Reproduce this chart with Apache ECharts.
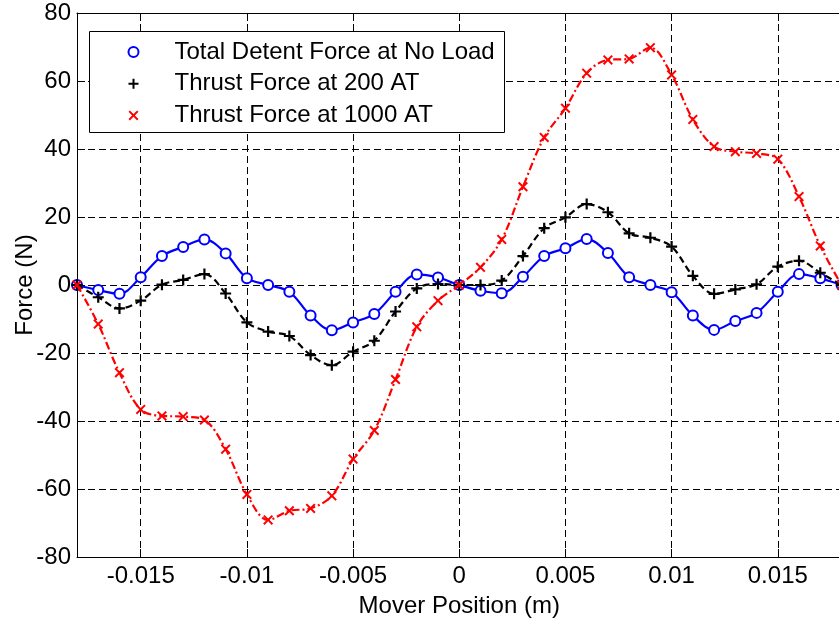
<!DOCTYPE html>
<html>
<head>
<meta charset="utf-8">
<title>Detent and Thrust Force vs Mover Position</title>
<script src="https://cdn.jsdelivr.net/npm/echarts@6/dist/echarts.min.js"></script>
<style>
  html, body { margin: 0; padding: 0; background: #fff; }
  #chart { width: 839px; height: 624px; }
</style>
</head>
<body>
<div id="chart"></div>
<script>
// Mover position samples (m)
const positions = [
  -0.018, -0.017, -0.016, -0.015, -0.014, -0.013, -0.012, -0.011, -0.010,
  -0.009, -0.008, -0.007, -0.006, -0.005, -0.004, -0.003, -0.002, -0.001,
   0.000,
   0.001,  0.002,  0.003,  0.004,  0.005,  0.006,  0.007,  0.008,  0.009,
   0.010,  0.011,  0.012,  0.013,  0.014,  0.015,  0.016,  0.017,  0.018
];

// Total detent force at no load (N)
const detentNoLoad = [
   0.0, -1.5, -2.6,  2.3,  8.5, 11.2, 13.4,  9.3,  2.0,
   0.0, -2.0, -9.0, -13.3, -11.0, -8.5, -2.0,  3.1,  2.2,
   0.0,
  -1.7, -2.4,  2.4,  8.5, 10.8, 13.5,  9.4,  2.3,  0.0,
  -2.1, -9.0, -13.2, -10.6, -8.2, -2.0,  3.2,  2.0,  0.0
];

// Thrust force at 200 AT (N)
const thrust200AT = [
   0.0, -3.6, -6.9, -4.6,  0.1,  1.5,  3.2, -2.5, -11.0,
  -13.7, -15.0, -20.6, -23.6, -19.6, -16.4, -7.8, -1.0,  0.3,
   0.0,
   0.0,  1.3,  8.5, 16.7, 19.9, 23.8, 21.4, 15.2, 13.9,
  11.3,  2.7, -2.6, -1.3,  0.2,  5.4,  7.1,  3.6,  0.0
];

// Thrust force at 1000 AT (N)
const thrust1000AT = [
   0.0, -11.5, -25.8, -36.6, -38.5, -38.7, -39.7, -48.3, -61.6,
  -69.1, -66.4, -65.7, -62.0, -51.2, -42.8, -27.8, -12.3, -4.6,
   0.0,
   5.2, 13.4, 28.9, 43.4, 52.0, 62.3, 66.2, 66.5, 69.8,
  61.8, 48.7, 40.7, 39.2, 38.7, 37.0, 26.0, 11.5,  0.0
];

// Axis ticks
const xTicks = [-0.015, -0.01, -0.005, 0, 0.005, 0.01, 0.015];
const xRange = [-0.018, 0.018];
const yRange = [-80, 80];
const yStep = 20;

const seriesNames = [
  'Total Detent Force at No Load',
  'Thrust Force at 200 AT',
  'Thrust Force at 1000 AT'
];

const FONT = 'Arial, "Liberation Sans", Helvetica, sans-serif';
const PLUS = 'path://M4,0H6V4H10V6H6V10H4V6H0V4H4Z';
const CROSS = 'path://M0,1.4L1.4,0L5,3.6L8.6,0L10,1.4L6.4,5L10,8.6L8.6,10L5,6.4L1.4,10L0,8.6L3.6,5Z';

const pairs = vals => positions.map((x, i) => [x, vals[i]]);

const chart = echarts.init(document.getElementById('chart'), null, { renderer: 'canvas' });

const gridDash = { color: '#000', width: 1, type: [7, 4] };

chart.setOption({
  animation: false,
  backgroundColor: '#fff',
  grid: {
    left: 77, top: 13, right: -2.5, bottom: 67,
    containLabel: false,
    outerBoundsMode: 'none'
  },
  // legend frame (white box hides the grid lines behind the legend)
  graphic: {
    elements: [{
      type: 'rect',
      z: 5,
      shape: { x: 89.5, y: 31.5, width: 415, height: 101 },
      style: { fill: '#fff', stroke: '#000', lineWidth: 1 }
    }]
  },
  legend: {
    orient: 'vertical',
    left: 119.5,
    top: 34,
    z: 10,
    padding: [6, 7, 7, 8],
    itemWidth: 72,
    itemHeight: 10,
    itemGap: 7.7,
    textStyle: { fontSize: 24, lineHeight: 24, color: '#000', fontFamily: FONT },
    data: [
      { name: seriesNames[0], icon: 'emptyCircle' },
      { name: seriesNames[1], icon: PLUS },
      { name: seriesNames[2], icon: CROSS }
    ]
  },
  xAxis: [
    {
      type: 'value',
      min: xRange[0], max: xRange[1],
      position: 'bottom',
      name: 'Mover Position (m)',
      nameLocation: 'middle',
      nameGap: 37,
      nameMoveOverlap: false,
      nameTextStyle: { fontSize: 24, color: '#000', fontFamily: FONT },
      axisLine: { show: true, onZero: false, lineStyle: { color: '#000', width: 1 } },
      axisTick: { show: true, inside: true, length: 8, customValues: xTicks, lineStyle: { color: '#000' } },
      axisLabel: {
        customValues: xTicks,
        margin: 7,
        fontSize: 24, color: '#000', fontFamily: FONT,
        formatter: v => String(v)
      },
      splitLine: { show: true, lineStyle: gridDash }
    },
    {
      type: 'value',
      min: xRange[0], max: xRange[1],
      position: 'top',
      axisLine: { show: true, onZero: false, lineStyle: { color: '#000', width: 1 } },
      axisTick: { show: true, inside: true, length: 8, customValues: xTicks, lineStyle: { color: '#000' } },
      axisLabel: { show: false },
      splitLine: { show: false }
    }
  ],
  yAxis: {
    type: 'value',
    min: yRange[0], max: yRange[1], interval: yStep,
    name: 'Force (N)',
    nameLocation: 'middle',
    nameGap: 40,
    nameMoveOverlap: false,
    nameTextStyle: { fontSize: 24, color: '#000', fontFamily: FONT },
    axisLine: { show: true, onZero: false, lineStyle: { color: '#000', width: 1 } },
    axisTick: { show: true, inside: true, length: 8, lineStyle: { color: '#000' } },
    axisLabel: { margin: 6, fontSize: 24, color: '#000', fontFamily: FONT },
    splitLine: { show: true, lineStyle: gridDash }
  },
  series: [
    {
      name: seriesNames[0],
      type: 'line',
      data: pairs(detentNoLoad),
      smooth: 0.35,
      symbol: 'emptyCircle',
      symbolSize: 10,
      showAllSymbol: true,
      lineStyle: { color: '#0000ff', width: 2.2, type: 'solid' },
      itemStyle: { color: '#0000ff', borderColor: '#0000ff', borderWidth: 2.2 },
      emphasis: { disabled: true },
      z: 2
    },
    {
      name: seriesNames[1],
      type: 'line',
      data: pairs(thrust200AT),
      smooth: 0.35,
      symbol: PLUS,
      symbolSize: 11,
      showAllSymbol: true,
      lineStyle: { color: '#000', width: 2.2, type: [7, 4] },
      itemStyle: { color: '#000', borderWidth: 0 },
      emphasis: { disabled: true },
      z: 3
    },
    {
      name: seriesNames[2],
      type: 'line',
      data: pairs(thrust1000AT),
      smooth: 0.35,
      symbol: CROSS,
      symbolSize: 10,
      showAllSymbol: true,
      lineStyle: { color: '#ff0000', width: 2.2, type: [8, 3, 2, 3] },
      itemStyle: { color: '#ff0000', borderWidth: 0 },
      emphasis: { disabled: true },
      z: 4
    }
  ]
});
</script>
</body>
</html>
